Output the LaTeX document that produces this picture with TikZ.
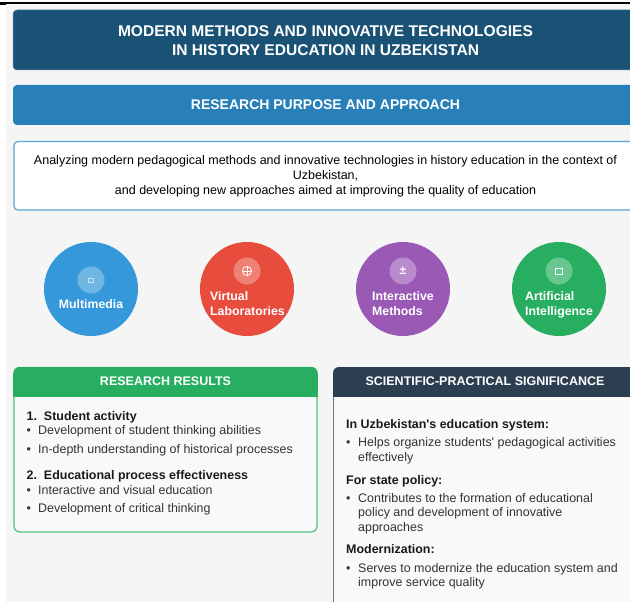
\documentclass[tikz,border=0pt]{standalone}
\usepackage{fontspec}
\setmainfont{Liberation Sans}
\definecolor{pagebg}{HTML}{F5F5F5}
\definecolor{navy}{HTML}{1A5276}
\definecolor{midblue}{HTML}{2980B9}
\definecolor{lineblue}{HTML}{5DA5D5}
\definecolor{skyc}{HTML}{3498DB}
\definecolor{redc}{HTML}{E74C3C}
\definecolor{purplec}{HTML}{9B59B6}
\definecolor{greenc}{HTML}{27AE60}
\definecolor{slatec}{HTML}{2C3E50}
\definecolor{panelbg}{HTML}{F9F9F9}
\definecolor{bodytext}{HTML}{333333}
\tikzset{
  x=1pt,y=-1pt,
  banner/.style={font=\bfseries\fontsize{15.55}{18.5}\selectfont,text=white,align=center,inner sep=0pt},
  bannertwo/.style={font=\bfseries\fontsize{14}{17}\selectfont,text=white,inner sep=0pt},
  lead/.style={font=\fontsize{12.5}{14.8}\selectfont,text=black,align=center,inner sep=0pt},
  bigdisc/.style={circle,minimum size=94pt,inner sep=0pt},
  icondisc/.style={circle,fill=white,fill opacity=.3,minimum size=27pt,inner sep=0pt},
  disclabel/.style={font=\bfseries\fontsize{12.3}{14.5}\selectfont,text=white,align=left,inner sep=0pt},
  head/.style={font=\bfseries\fontsize{12.5}{15}\selectfont,text=white,inner sep=0pt},
  itemhead/.style={font=\bfseries\fontsize{12.45}{15}\selectfont,text=black!90,anchor=base west,inner sep=0pt},
  item/.style={font=\fontsize{12.45}{15}\selectfont,text=bodytext,anchor=base west,inner sep=0pt,align=left},
  dotmark/.style={font=\fontsize{12.45}{15}\selectfont,text=bodytext,anchor=base west,inner sep=0pt},
  glyph/.style={font=\fontsize{12}{12}\selectfont,text=white,inner sep=0pt},
}
\begin{document}
\begin{tikzpicture}
\useasboundingbox (0,0) rectangle (630,602);
\fill[white] (0,0) rectangle (630,602);
\fill[pagebg] (6,4) rectangle (630,602);
\fill[black] (0,2) rectangle (630,4.5);
\fill[black] (0,4.5) rectangle (6,5.3);

% banners
\fill[navy,rounded corners=4pt] (13,10) rectangle (640,70);
\draw[navy!70!white,line width=.5pt,rounded corners=4pt] (13,10) rectangle (640,70);
\node[banner] (title) at (325.5,40.5) {MODERN METHODS AND INNOVATIVE TECHNOLOGIES\\IN HISTORY EDUCATION IN UZBEKISTAN};
\fill[midblue,rounded corners=4pt] (13,85) rectangle (640,125);
\node[bannertwo] (purpose) at (325.5,105) {RESEARCH PURPOSE AND APPROACH};
\draw[lineblue,fill=white,line width=1.2pt,rounded corners=4pt] (14,141.5) rectangle (640,210);
\node[lead] (aim) at (325.5,176) {Analyzing modern pedagogical methods and innovative technologies in history education in the context of\\Uzbekistan,\\and developing new approaches aimed at improving the quality of education};

% discs
\node[bigdisc,fill=skyc] (d1) at (91,289) {};
\node[icondisc] (i1) at (91,280) {};
\draw[white,opacity=.6,line width=.8pt] (88.6,278) rectangle (93.4,282.8);
\node[disclabel] (l1) at (91,304.5) {Multimedia};

\node[bigdisc,fill=redc] (d2) at (247,289) {};
\node[icondisc] (i2) at (247,271) {};
\draw[white,line width=.7pt] (247,271) circle (4.6pt);
\draw[white,line width=.6pt] (242.4,271) -- (251.6,271) (247,266.4) -- (247,275.6);
\node[disclabel,anchor=north west] (l2) at (210,291.5) {Virtual\\Laboratories};

\node[bigdisc,fill=purplec] (d3) at (403,289) {};
\node[icondisc] (i3) at (403,271) {};
\node[glyph] (g3) at (403,271) {\bfseries ±};
\node[disclabel,anchor=north west] (l3) at (372,291.5) {Interactive\\Methods};

\node[bigdisc,fill=greenc] (d4) at (559,289) {};
\node[icondisc] (i4) at (559,271) {};
\draw[white,line width=1pt] (555.6,268) rectangle (562.4,274.6);
\node[disclabel,anchor=north west] (l4) at (525,291.5) {Artificial\\Intelligence};

% results panel
\draw[greenc!80!white,fill=panelbg,line width=1.2pt,rounded corners=6pt] (14,367.5) rectangle (317,532);
\fill[greenc,rounded corners=6pt] (13.4,367) rectangle (317.6,380);
\fill[greenc] (13.4,374) rectangle (317.6,397);
\node[head] (rh) at (165.5,381.5) {RESEARCH RESULTS};
\node[itemhead] (r1) at (26.5,420) {1.\ \ Student activity};
\node[dotmark] (rb1) at (26.5,434.5) {•};
\node[item] (r1a) at (38,434.5) {Development of student thinking abilities};
\node[dotmark] (rb2) at (26.5,453) {•};
\node[item] (r1b) at (38,453) {In-depth understanding of historical processes};
\node[itemhead] (r2) at (26.5,479.3) {2.\ \ Educational process effectiveness};
\node[dotmark] (rb3) at (26.5,494) {•};
\node[item] (r2a) at (38,494) {Interactive and visual education};
\node[dotmark] (rb4) at (26.5,512.5) {•};
\node[item] (r2b) at (38,512.5) {Development of critical thinking};

% significance panel
\fill[panelbg] (333,380) rectangle (630,602);
\draw[slatec!70!white,line width=1.2pt] (333.6,385) -- (333.6,602);
\fill[slatec,rounded corners=6pt] (333,367) rectangle (640,385);
\fill[slatec] (333,375) rectangle (630,397);
\node[head] (sh) at (485,381.5) {SCIENTIFIC-PRACTICAL SIGNIFICANCE};
\node[itemhead] (s1) at (346,428) {In Uzbekistan\textquotesingle s education system:};
\node[dotmark] (sb1) at (346,446.5) {•};
\node[item] (s1a) at (358,446.5) {Helps organize students\textquotesingle\ pedagogical activities};
\node[item] (s1a2) at (358,461.5) {effectively};
\node[itemhead] (s2) at (346,484) {For state policy:};
\node[dotmark] (sb2) at (346,502) {•};
\node[item] (s2a) at (358,502) {Contributes to the formation of educational};
\node[item] (s2a2) at (358,516.5) {policy and development of innovative};
\node[item] (s2a3) at (358,531.5) {approaches};
\node[itemhead] (s3) at (346,553) {Modernization:};
\node[dotmark] (sb3) at (346,572) {•};
\node[item] (s3a) at (358,572) {Serves to modernize the education system and};
\node[item] (s3a2) at (358,586.5) {improve service quality};
\end{tikzpicture}
\end{document}
